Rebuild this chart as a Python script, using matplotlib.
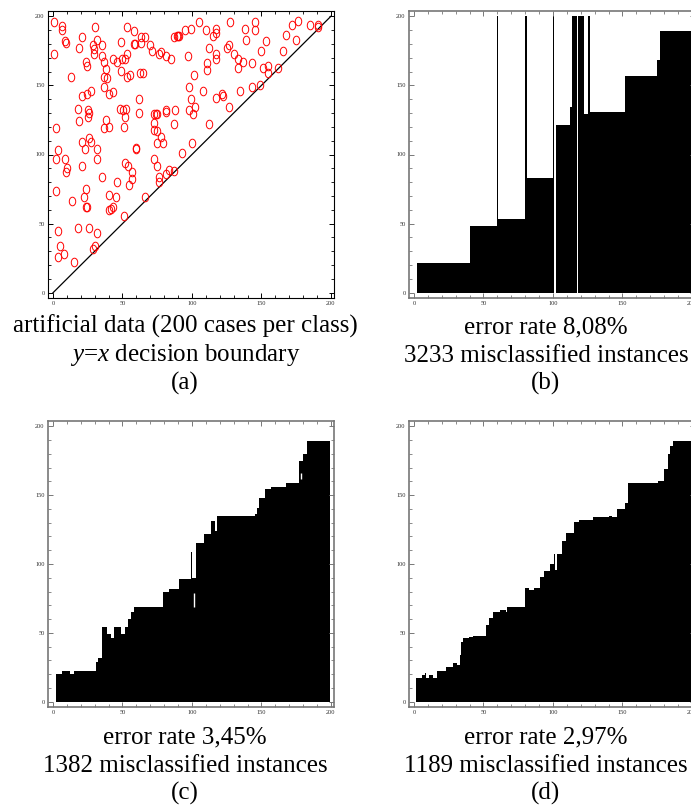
import numpy as np
import matplotlib.pyplot as plt
from matplotlib.path import Path
from matplotlib.transforms import Affine2D
from matplotlib.ticker import MultipleLocator

plt.rcParams['font.family'] = ['Liberation Serif', 'DejaVu Serif']
plt.rcParams['mathtext.fontset'] = 'custom'
plt.rcParams['mathtext.rm'] = 'Liberation Serif'
plt.rcParams['mathtext.it'] = 'Liberation Serif:italic'

# (a) artificial data, class above the y=x line
a_x = [0.5, 0.5, 6.5, 6.5, 8.4, 9.6, 21, 19, 30, 32, 29, 29.5, 29.5, 35, 35.5, 36.5, 38, 37, 39, 24,
       24.5, 13, 21, 24.5, 27, 18, 25, 26, 25, 19, 2, 37, 40, 43, 38, 37, 40.5, 26, 27, 21,
       23, 32, 31.5, 21, 3.6, 2, 8.4, 10, 9.6, 35, 46, 2, 23.5, 22, 24, 24.5, 14, 40, 45, 40,
       42, 43, 51, 3.6, 18, 26, 32, 4.8, 3.6, 8, 15, 30.5, 29,
       53, 58, 49, 59, 58.5, 63.5, 66.5, 63, 70, 71, 53, 43, 46, 50, 51.6, 49, 53, 55.7, 62.4, 65,
       62, 48, 50.4, 52.8, 52, 51, 62, 60, 60, 52, 54, 57, 57, 55, 66,
       76, 78, 81, 85, 87, 89, 90, 91, 72.5, 74, 74.5, 73, 72.5, 74.5, 74.5, 78, 79, 72.5, 75, 76,
       76.3, 81.6, 83.5, 87, 81, 81.6, 88, 87.4, 93,
       95, 97, 99.6, 104.7, 110, 117, 117, 115, 101.3, 98, 99, 98, 102, 101, 99.9, 112, 108, 110.5,
       110.5, 112, 117, 117, 117, 121.7, 122, 127.7, 125, 127, 130, 132.8, 132.8, 127, 134.4, 137,
       138, 139, 145.7, 145, 143, 143, 148.8, 150, 151, 153, 154.4, 155, 162, 165.7, 167.6, 172,
       175, 176, 185, 191, 191]
a_y = [196, 173, 193, 190, 182, 181, 185, 177, 192, 183, 179, 176, 173, 179, 171, 167, 162, 156, 155, 167,
       164, 156, 142, 144, 146, 133, 132, 130, 127, 124, 119, 149, 144, 145, 125, 119, 120, 112, 109, 109,
       104, 104, 97, 92, 103, 96.5, 96.5, 90, 87, 84, 80, 73.5, 75, 69, 62, 62, 66.5, 71, 69, 60,
       60.5, 62, 55.6, 44.5, 47, 47, 43, 34, 26, 28, 22, 34, 31.5,
       192, 189, 181.5, 180, 180, 185, 185, 181, 179, 175, 173, 169, 167, 169, 169, 160.5, 156, 157.5, 159, 159,
       140, 133, 132, 133, 127, 120, 130, 105, 104, 94, 92, 87, 82, 78, 69,
       173, 174, 171, 169, 185, 185.5, 185.5, 185.5, 129, 129, 129, 123, 118, 117, 108, 112.5, 108.6, 96.5, 91.6, 84,
       80, 86, 89, 88, 131, 132, 132, 122, 101,
       190, 171.5, 191, 195.6, 190, 190.5, 188, 186, 157.7, 148.5, 140, 132, 134, 129, 108.6, 122, 145.6, 166,
       161, 177, 173, 169, 141, 143.5, 142, 196, 177, 179, 173, 169, 162.5, 134, 146, 167,
       190.8, 182.6, 196, 190, 166, 148.7, 150.4, 174.6, 162.5, 181.9, 163.7, 159, 162.5, 174.6, 186.2, 193.5,
       182.6, 196.4, 193.5, 193.5, 192]
boundary_x = [0, 200]
boundary_y = [0, 200]

# (b) region edges along x and height of black region in each interval
b_edges = [2, 40, 60, 60.8, 80.2, 81.4, 99.8, 100.5, 102.4, 112.4, 113.6, 117, 118.3, 122, 125.5,
           126.5, 151.7, 175, 177, 200]
b_heights = [21.7, 48, 200, 53.5, 200, 83, 200, 0, 121.4, 134, 200, 0, 200, 129.4, 200,
             130.6, 156.6, 168.4, 189.4]

# (c)
c_edges = [2, 6.5, 12, 15, 31, 32.7, 35, 39, 42, 44, 49, 51.6, 54, 56, 58, 79, 83.5, 91, 99, 100,
           103, 108.5, 114, 116.5, 118, 145, 147, 148, 152.5, 157, 168, 177, 180, 182.5, 199.3]
c_heights = [20, 22, 20, 22, 29, 31.5, 54, 49, 46, 54, 49, 54, 60, 65, 69, 80, 82, 89, 109, 90,
             115.5, 121.5, 131, 124, 134.5, 136, 141, 148, 154.5, 156, 159, 175, 180, 189]
c_gap_x = [101.3, 178.5]
c_gap_lo = [69, 162]
c_gap_hi = [79, 166]

# (d)
d_edges = [1.2, 6, 7.8, 8.6, 10.8, 13.6, 16.7, 22.7, 28, 31, 33, 33.5, 35, 39.5, 42.3, 52, 54.3,
           56.7, 62, 66, 67, 80, 82.5, 86, 91, 93.3, 98, 100.5, 101.3, 103, 106.5, 109.3, 114.8,
           118.4, 129, 140, 142.5, 146, 152, 154.3, 175.8, 180, 182.5, 184.2, 186.6, 200]
d_heights = [17.5, 19.5, 20.6, 17.5, 19.5, 17.5, 22.3, 25.5, 28.3, 26.7, 34.3, 43.2, 46, 46.8, 47.5,
             56, 60.7, 65.5, 66.7, 65.5, 69, 82.4, 81, 82.8, 90.8, 94.8, 100.3, 107.5, 95.5, 107.5,
             117, 122.7, 130.8, 132, 134, 135, 134, 140, 144, 158.7, 160.4, 168.8, 179.6, 186, 189.2]

captions = {
    'a': ['artificial data (200 cases per class)', r'$y$=$x$ decision boundary', '(a)'],
    'b': ['error rate 8,08%', '3233 misclassified instances', '(b)'],
    'c': ['error rate 3,45%', '1382 misclassified instances', '(c)'],
    'd': ['error rate 2,97%', '1189 misclassified instances', '(d)'],
}

W, H = 691, 806
fig = plt.figure(figsize=(W / 100, H / 100), dpi=100)


def px_axes(left, top, right, bottom):
    return fig.add_axes([left / W, 1 - bottom / H, (right - left) / W, (bottom - top) / H])


def style(ax, frame_color, frame_lw):
    ax.set_xlim(-3.6, 202.2)
    ax.set_ylim(-3.8, 203.8)
    for axis in (ax.xaxis, ax.yaxis):
        axis.set_major_locator(MultipleLocator(50))
        axis.set_minor_locator(MultipleLocator(10))
    ax.tick_params(which='both', direction='in', top=True, right=True,
                   labelsize=4.6, pad=2.5, colors=frame_color, labelcolor='#333333')
    ax.tick_params(which='major', length=3.5, width=0.7)
    ax.tick_params(which='minor', length=2, width=0.6)
    for s in ax.spines.values():
        s.set_color(frame_color)
        s.set_linewidth(frame_lw)


def region(ax, edges, heights):
    ax.fill_between(edges, 0, heights + [heights[-1]], step='post', color='black', lw=0)


# ellipse marker, looks like the red letter O of the original
oval = Path.unit_circle().transformed(Affine2D().scale(0.75, 1.0))

ax_a = px_axes(48, 11, 334, 298)
style(ax_a, 'black', 0.8)
ax_a.plot(boundary_x, boundary_y, color='black', lw=0.9)
ax_a.plot(a_x, a_y, ls='none', marker=oval, markersize=6.2, mfc='none', mec='red', mew=0.7)

ax_b = px_axes(409, 11, 695, 298)
style(ax_b, '#777777', 1.2)
region(ax_b, b_edges, b_heights)

ax_c = px_axes(48, 421, 334, 707)
style(ax_c, '#777777', 1.2)
region(ax_c, c_edges, c_heights)
ax_c.vlines(c_gap_x, c_gap_lo, c_gap_hi, color='white', lw=1)

ax_d = px_axes(409, 421, 695, 707)
style(ax_d, '#777777', 1.2)
region(ax_d, d_edges, d_heights)

centers = {'a': (185, 333), 'b': (546, 333), 'c': (185, 743), 'd': (546, 743)}
for key, lines in captions.items():
    cx, by = centers[key]
    for i, line in enumerate(lines):
        fig.text(cx / W, 1 - (by + 28.5 * i) / H, line, ha='center', va='baseline', fontsize=18)

fig.savefig('out.png', dpi=100)
